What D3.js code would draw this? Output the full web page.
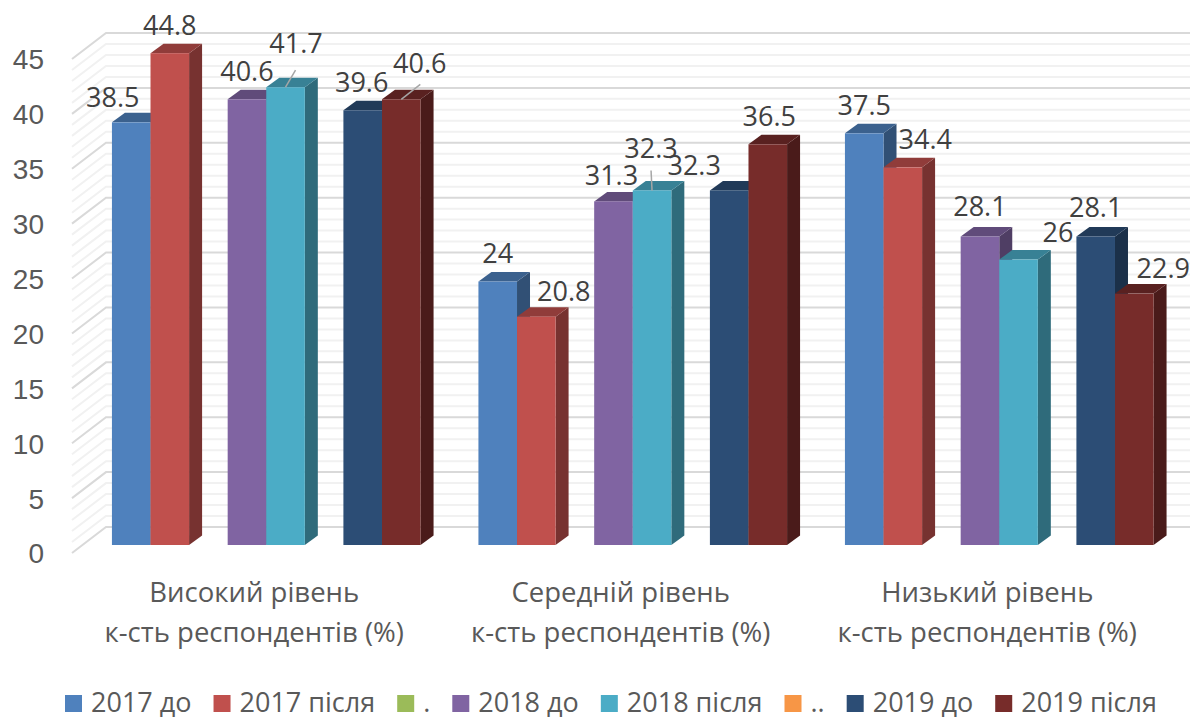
<!doctype html>
<html lang="uk">
<head>
<meta charset="utf-8">
<title>Рівні респондентів</title>
<script src="https://d3js.org/d3.v7.min.js"></script>
<style>
  html, body { margin: 0; padding: 0; background: #fff; }
  svg { display: block; font-family: "Open Sans", "Noto Sans", sans-serif; }
</style>
</head>
<body>
<svg id="chart" width="1195" height="720"></svg>
<script>
// data
const categories = ["Високий рівень", "Середній рівень", "Низький рівень"];
const categorySub = "к-сть респондентів (%)";
const seriesNames = ["2017 до", "2017 після", ".", "2018 до", "2018 після", "..", "2019 до", "2019 після"];
const seriesColors = ["#4f81bd", "#c0504d", "#9bbb59", "#8064a2", "#4bacc6", "#f79646", "#2c4d75", "#772c2a"];
const v2017do = [38.5, 24, 37.5];
const v2017pislia = [44.8, 20.8, 34.4];
const vDot = [];
const v2018do = [40.6, 31.3, 28.1];
const v2018pislia = [41.7, 32.3, 26];
const vDots = [];
const v2019do = [39.6, 32.3, 28.1];
const v2019pislia = [40.6, 36.5, 22.9];
const allSeries = [v2017do, v2017pislia, vDot, v2018do, v2018pislia, vDots, v2019do, v2019pislia];
const yTicks = [0, 5, 10, 15, 20, 25, 30, 35, 40, 45];
const minorTicks = d3.range(0, 46);

// layout
const wallDx = 34, wallDy = -26;    // back wall vs. front edge of the floor
const barLift = 8;                  // bars stand a bit behind the front edge
const depthX = 13, depthY = -9.5;   // bar depth
const right = 1190;

// hand placed labels, [series][category] -> dx, dy from the top centre of the bar
const labelNudge = {
  0: [[-18.5, -25], [0, -28], [0, -28]],
  1: [[0, -28], [27.5, -25], [22.5, -28]],
  3: [[0, -28], [-2, -26], [0, -29.5]],
  4: [[10.5, -44], [-1, -42], [39.5, -27]],
  6: [[-1, -28], [-35, -25], [0, -29]],
  7: [[18.5, -36], [1.5, -28], [29, -25]]
};
// leader lines: series, category, dx and dy of the far end
const leaders = [[4, 0, 10, -17], [7, 0, 19, -15], [4, 1, -1, -20]];

const svg = d3.select("#chart");
const y = d3.scaleLinear().domain([0, 45]).range([553, 59]);
const x0 = d3.scaleBand().domain(categories).range([83, 1182.5]).paddingInner(1.5 / 9.5).paddingOuter(0.75 / 9.5);
const x1 = d3.scaleBand().domain(d3.range(seriesNames.length)).range([0, x0.bandwidth()]);

// walls
const grid = svg.append("g");
function gridLine(v, color, w) {
  grid.append("path")
    .attr("d", "M72," + y(v) + "L" + (72 + wallDx) + "," + (y(v) + wallDy) + "H" + right)
    .attr("fill", "none").attr("stroke", color).attr("stroke-width", w);
}
minorTicks.filter(v => v % 5 != 0).forEach(v => gridLine(v, "#f1f1f1", 2));
yTicks.forEach(v => gridLine(v, "#d9d9d9", 2));

// y labels
const yAxis = svg.append("g").attr("transform", "translate(44,1)")
  .call(d3.axisLeft(y).tickValues(yTicks).tickSize(0).tickPadding(0));
yAxis.select(".domain").remove();
yAxis.selectAll("text").attr("font-size", 28).attr("font-family", "inherit").attr("fill", "#595959");

function shade(c, k) {
  const r = d3.rgb(c);
  return d3.rgb(r.r * k, r.g * k, r.b * k).formatHex();
}

// bars
allSeries.forEach((vals, s) => {
  vals.forEach((v, c) => {
    const xl = x0(categories[c]) + x1(s), w = x1.bandwidth();
    const top = y(v) - barLift, base = y(0) - barLift;
    const g = svg.append("g");
    g.append("path") // side
      .attr("d", "M" + (xl + w) + "," + top + "l" + depthX + "," + depthY + "V" + (base + depthY) + "l" + (-depthX) + "," + (-depthY) + "Z")
      .attr("fill", shade(seriesColors[s], 0.62));
    g.append("path") // top
      .attr("d", "M" + xl + "," + top + "l" + depthX + "," + depthY + "h" + w + "l" + (-depthX) + "," + (-depthY) + "Z")
      .attr("fill", shade(seriesColors[s], 0.75));
    g.append("rect")
      .attr("x", xl).attr("y", top).attr("width", w).attr("height", base - top)
      .attr("fill", seriesColors[s]);
  });
});

// leader lines
leaders.forEach(l => {
  const px = x0(categories[l[1]]) + x1(l[0]) + x1.bandwidth() / 2;
  const py = y(allSeries[l[0]][l[1]]) - barLift;
  svg.append("line").attr("x1", px).attr("y1", py).attr("x2", px + l[2]).attr("y2", py + l[3])
    .attr("stroke", "#a6a6a6").attr("stroke-width", 1.5);
});

// value labels
allSeries.forEach((vals, s) => {
  vals.forEach((v, c) => {
    const n = labelNudge[s][c];
    svg.append("text")
      .attr("x", x0(categories[c]) + x1(s) + x1.bandwidth() / 2 + n[0])
      .attr("y", y(v) - barLift + n[1])
      .attr("dy", "0.35em").attr("text-anchor", "middle")
      .attr("font-size", 27).attr("fill", "#404040")
      .text(v);
  });
});

// category labels
categories.forEach(c => {
  const cx = x0(c) + x0.bandwidth() / 2 - 12;
  const t = svg.append("text").attr("text-anchor", "middle").attr("font-size", 27.5).attr("fill", "#595959");
  t.append("tspan").attr("x", cx).attr("y", 602).text(c);
  t.append("tspan").attr("x", cx).attr("y", 642).text(categorySub);
});

// legend
let lx = 65;
seriesNames.forEach((name, i) => {
  svg.append("rect").attr("x", lx).attr("y", 695).attr("width", 17).attr("height", 17).attr("fill", seriesColors[i]);
  const t = svg.append("text").attr("x", lx + 26).attr("y", 712).attr("font-size", 27).attr("fill", "#595959").text(name);
  lx += 26 + t.node().getComputedTextLength() + 22;
});
</script>
</body>
</html>
